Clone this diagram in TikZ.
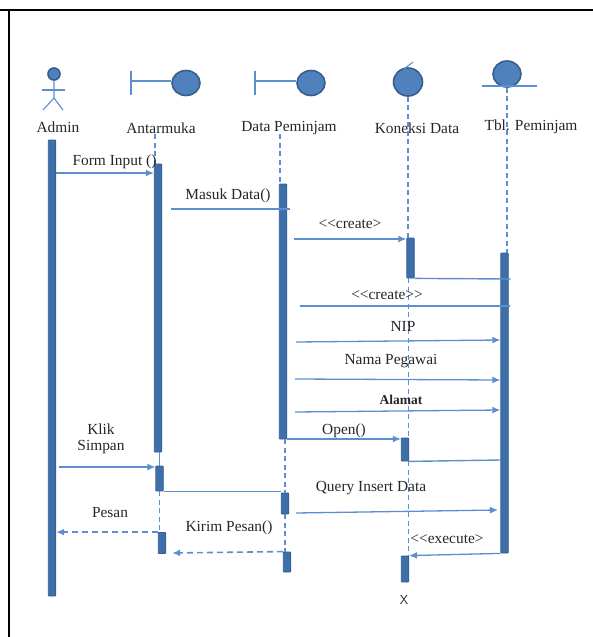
\documentclass[tikz,border=0pt]{standalone}
\usepackage{fontspec}
\setmainfont{Liberation Serif}
\usetikzlibrary{positioning, calc}
\usetikzlibrary{arrows.meta}
\usetikzlibrary{shapes.geometric}
\definecolor{msgcol}{HTML}{5B8FD0}
\definecolor{barfill}{HTML}{3F6FA9}
\definecolor{barline}{HTML}{2F5C94}
\definecolor{iconfill}{HTML}{4F81BD}
\definecolor{iconline}{HTML}{385D8A}
\tikzset{bar/.style={draw=barline, fill=barfill, thick, rounded corners=0.8pt, minimum width=7.5pt, inner sep=0pt},
icon/.style={draw=iconline, fill=iconfill, line width=1.6pt, ellipse, inner sep=0pt},
stroke/.style={draw=msgcol, line width=1.1pt},
life/.style={draw=msgcol, line width=1.6pt, dash pattern=on 5pt off 3.5pt},
line/.style={draw=msgcol, line width=1.3pt, -{Latex[length=8pt,width=7pt]}},
plain/.style={draw=msgcol, line width=1.4pt},
back/.style={draw=msgcol, line width=1.6pt, dash pattern=on 6pt off 4pt, -{Latex[length=8pt,width=7pt]}},
txt/.style={inner sep=0pt, text=black!85, font=\fontsize{15.4}{17}\selectfont, align=center}
}
\begin{document}
\begin{tikzpicture}[x=1pt,y=-1pt]
\useasboundingbox (0,0) rectangle (593,637);
\draw[line width=2.8pt] (0,10) -- (593,10);
\draw[line width=2.8pt] (9,10) -- (9,637);
% icons
\node[icon,minimum width=12pt,minimum height=12pt] (adminhead) at (54,74) {};
\draw[stroke] (adminhead.south) -- (54,98) -- (43,110);
\draw[stroke] (54,98) -- (63,110);
\draw[stroke] (42,90) -- (65,90);
\node[icon,minimum width=28pt,minimum height=25pt] (antarcirc) at (186,83) {};
\draw[stroke] (131,71) -- (131,95);
\draw[stroke] (131,81) -- (antarcirc.west |- 0,81);
\node[icon,minimum width=28pt,minimum height=25pt] (datacirc) at (311,83) {};
\draw[stroke] (255,71) -- (255,95);
\draw[stroke] (255,81) -- (datacirc.west |- 0,81);
\node[icon,minimum width=29pt,minimum height=28pt] (koneksicirc) at (408,82) {};
\draw[stroke] (404,69) -- (413,62);
\node[icon,minimum width=28pt,minimum height=26pt] (tblcirc) at (507,74) {};
\draw[stroke] (482,86) -- (537,86);
% names
\node[txt] (adminlbl) at (58,127) {Admin};
\node[txt] (antarlbl) at (161,128) {Antarmuka};
\node[txt] (datalbl) at (289,128) {Data Peminjam};
\node[txt] (koneksilbl) at (417,128) {Koneksi Data};
\node[txt] (tbllbl) at (531,127) {Tbl. Peminjam};
% activation bars
\node[bar,minimum height=456pt] (adminbar) at (52,368) {};
\node[bar,minimum height=288pt] (antarA) at (158,308) {};
\node[bar,minimum height=25pt] (antarB) at (159.5,478.5) {};
\node[bar,minimum height=21pt] (antarC) at (162,543) {};
\node[bar,minimum height=255pt] (dataA) at (283,311.5) {};
\node[bar,minimum height=21pt] (dataB) at (285,503.5) {};
\node[bar,minimum height=20pt] (dataC) at (287,562) {};
\node[bar,minimum height=40pt] (koneksiA) at (410.5,258) {};
\node[bar,minimum height=23pt] (koneksiB) at (405,449.5) {};
\node[bar,minimum height=26pt] (koneksiC) at (405,569) {};
\node[bar,minimum height=300pt] (tblbar) at (504.5,403) {};
% lifelines
\coordinate (antartop) at (155,134);
\coordinate (datatop) at (280,134);
\coordinate (koneksilow) at (408.5,278);
\draw[life] (antartop) -- (antartop |- antarA.north);
\draw[life] (datatop) -- (datatop |- dataA.north);
\draw[life] (koneksicirc.south) -- (koneksicirc.south |- koneksiA.north);
\draw[life] (tblcirc.south) -- (tblcirc.south |- tblbar.north);
\draw[stroke] (antarB.north |- antarA.south) -- (antarB.north);
\draw[life] (antarB.south) -- (antarB.south |- antarC.north);
\draw[life] (dataB.north |- dataA.south) -- (dataB.north);
\draw[life] (dataB.south) -- (dataB.south |- dataC.north);
\draw[life] (koneksilow) -- (koneksilow |- koneksiB.north);
\draw[life] (koneksilow |- koneksiB.south) -- (koneksilow |- koneksiC.north);
% messages
\coordinate (masukstart) at (171,209);
\coordinate (masukend) at (290,209);
\coordinate (createstart) at (294,239);
\coordinate (createtwostart) at (300,306);
\coordinate (createtwoend) at (510,306);
\coordinate (nipstart) at (296,342);
\coordinate (namastart) at (295,379);
\coordinate (alamatstart) at (295,412);
\coordinate (klikstart) at (59,467);
\coordinate (querystart) at (296,513);
\coordinate (queryend) at (498,510);
\draw[line] (adminbar.east |- 0,173) -- (antarA.west |- 0,173);
\draw[plain] (masukstart) -- (masukend);
\draw[line] (createstart) -- (koneksiA.west |- createstart);
\draw[plain] (koneksiA.south east) -- ($(tblbar.east |- 0,279)+(2,0)$);
\draw[plain] (createtwostart) -- (createtwoend);
\draw[line] (nipstart) -- (tblbar.west |- 0,340);
\draw[line] (namastart) -- (tblbar.west |- 0,380);
\draw[line] (alamatstart) -- (tblbar.west |- 0,410);
\draw[line] (dataA.east |- 0,439) -- (koneksiB.west |- 0,439);
\draw[plain] (koneksiB.south east) -- (tblbar.west |- 0,460);
\draw[line] (klikstart) -- (antarB.west |- 0,467);
\draw[plain] (antarB.south east) -- (dataB.west |- antarB.south);
\draw[line] (querystart) -- (queryend);
\draw[back] (antarC.north west) -- (adminbar.east |- antarC.north);
\draw[back] (dataC.north west) -- ($(antarC.east |- 0,553)+(6,0)$);
\draw[line] (tblbar.south west) -- (koneksiC.north east);
% message labels
\node[txt] (forminput) at (114.5,162) {Form Input ()};
\node[txt] (masukdata) at (228,196) {Masuk Data()};
\node[txt] (create) at (350,224) {<{}<create>};
\node[txt] (createtwo) at (387,295) {<{}<create>{}>};
\node[txt] (nip) at (403,326) {NIP};
\node[txt] (nama) at (391,361) {Nama Pegawai};
\node[txt,font=\bfseries\fontsize{13.5}{15}\selectfont] (alamat) at (401,400) {Alamat};
\node[txt] (open) at (344,431) {Open()};
\node[txt] (query) at (371,488) {Query Insert Data};
\node[txt] (kirim) at (229,528) {Kirim Pesan()};
\node[txt,font=\fontsize{15.4}{16.5}\selectfont] (klik) at (101,439) {Klik\\Simpan};
\node[txt] (pesan) at (110,513) {Pesan};
\node[txt] (execute) at (447,539) {<{}<execute>};
\node[txt,font=\sffamily\fontsize{13}{15}\selectfont] (xmark) at (404,600) {X};
\end{tikzpicture}
\end{document}
